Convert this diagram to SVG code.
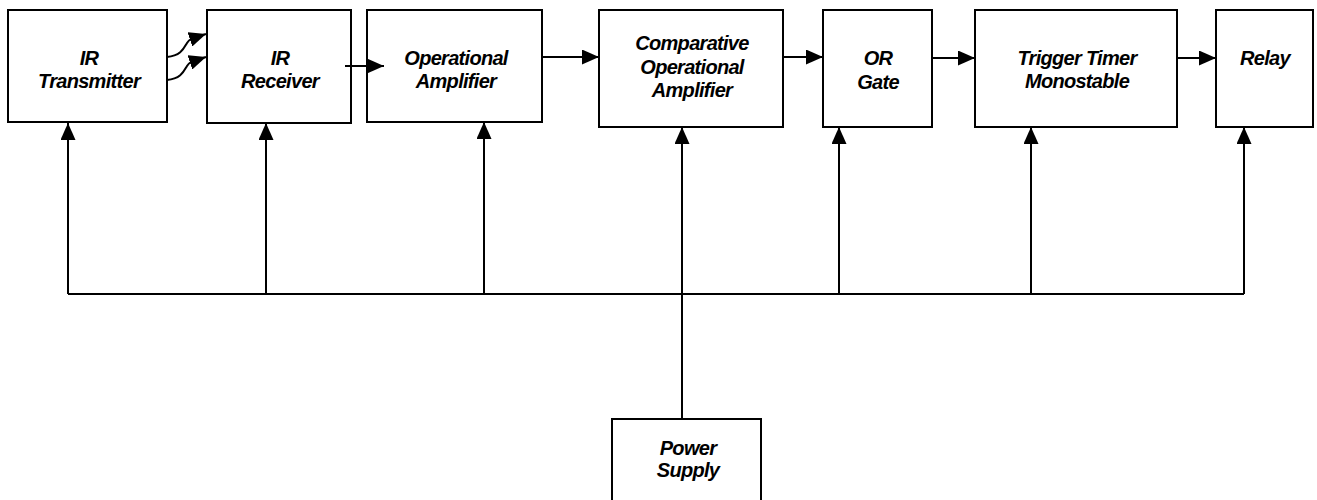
<svg xmlns="http://www.w3.org/2000/svg" width="1317" height="500" viewBox="0 0 1317 500">
<defs>
<marker id="ah" markerWidth="17" markerHeight="15" refX="17" refY="7.5" orient="auto" markerUnits="userSpaceOnUse">
<path d="M0,0 L17,7.5 L0,15 Z" fill="#000"/>
</marker>
<style>
.box{fill:#fff;stroke:#000;stroke-width:2}
.lbl{font-family:"Liberation Sans",Arial,sans-serif;font-style:italic;font-weight:bold;font-size:20px;text-anchor:middle;fill:#000;letter-spacing:-0.7px}
.ln{fill:none;stroke:#000;stroke-width:2}
</style>
</defs>
<g id="ir-transmitter"><rect class="box" x="8" y="10" width="159" height="112"/><text class="lbl" x="89" y="65">IR</text><text class="lbl" x="89" y="88">Transmitter</text></g>
<g id="ir-receiver"><rect class="box" x="207" y="10" width="144" height="113"/><text class="lbl" x="280" y="65">IR</text><text class="lbl" x="280" y="88">Receiver</text></g>
<g id="op-amp"><rect class="box" x="367" y="10" width="175" height="112"/><text class="lbl" x="456" y="65">Operational</text><text class="lbl" x="456" y="88">Amplifier</text></g>
<g id="comparative"><rect class="box" x="599" y="10" width="184" height="117"/><text class="lbl" x="692" y="50">Comparative</text><text class="lbl" x="692" y="74">Operational</text><text class="lbl" x="692" y="97">Amplifier</text></g>
<g id="or-gate"><rect class="box" x="823" y="10" width="109" height="117"/><text class="lbl" x="878" y="65">OR</text><text class="lbl" x="878" y="89">Gate</text></g>
<g id="trigger"><rect class="box" x="975" y="10" width="202" height="117"/><text class="lbl" x="1077" y="65">Trigger Timer</text><text class="lbl" x="1077" y="88">Monostable</text></g>
<g id="relay"><rect class="box" x="1216" y="10" width="97" height="117"/><text class="lbl" x="1265" y="65">Relay</text></g>
<g id="power-supply"><rect class="box" x="612" y="419" width="149" height="100"/><text class="lbl" x="688" y="455">Power</text><text class="lbl" x="688" y="477">Supply</text></g>
<g id="connectors">
<path class="ln" d="M68,294 H1244"/>
<path class="ln" d="M682,419 V127" marker-end="url(#ah)"/>
<path class="ln" d="M68,294 V123" marker-end="url(#ah)"/>
<path class="ln" d="M266,294 V123" marker-end="url(#ah)"/>
<path class="ln" d="M484,294 V122" marker-end="url(#ah)"/>
<path class="ln" d="M839,294 V127" marker-end="url(#ah)"/>
<path class="ln" d="M1031,294 V127" marker-end="url(#ah)"/>
<path class="ln" d="M1244,294 V127" marker-end="url(#ah)"/>
<path class="ln" d="M167,57 C181,56 184,48 187,43 C190,38 194,38 206,34" marker-end="url(#ah)"/>
<path class="ln" d="M167,80 C181,79 184,71 187,66 C190,61 194,61 206,57" marker-end="url(#ah)"/>
<path class="ln" d="M345,66 H384" marker-end="url(#ah)"/>
<path class="ln" d="M542,57 H599" marker-end="url(#ah)"/>
<path class="ln" d="M783,57 H823" marker-end="url(#ah)"/>
<path class="ln" d="M932,58 H975" marker-end="url(#ah)"/>
<path class="ln" d="M1177,58 H1216" marker-end="url(#ah)"/>
</g>
</svg>
